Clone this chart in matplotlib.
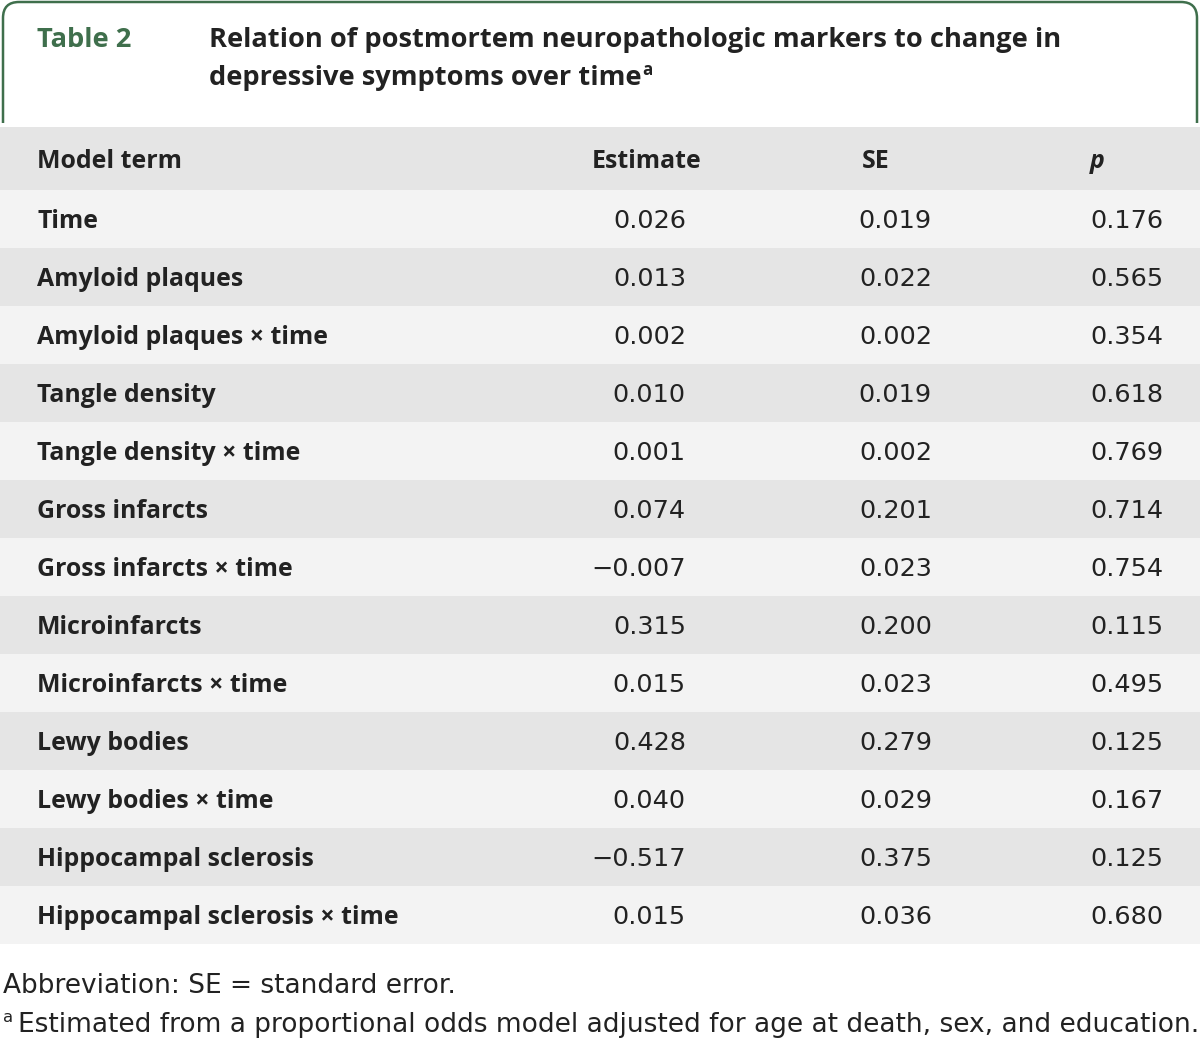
import matplotlib
matplotlib.use("Agg")
import matplotlib.pyplot as plt
from matplotlib.path import Path
from matplotlib.patches import PathPatch, Rectangle

table_label = "Table 2"
title_lines = ["Relation of postmortem neuropathologic markers to change in",
               "depressive symptoms over time"]
col_headers = ["Model term", "Estimate", "SE", "p"]
terms = ["Time", "Amyloid plaques", "Amyloid plaques \u00d7 time", "Tangle density",
         "Tangle density \u00d7 time", "Gross infarcts", "Gross infarcts \u00d7 time",
         "Microinfarcts", "Microinfarcts \u00d7 time", "Lewy bodies",
         "Lewy bodies \u00d7 time", "Hippocampal sclerosis",
         "Hippocampal sclerosis \u00d7 time"]
estimates = ["0.026", "0.013", "0.002", "0.010", "0.001", "0.074", "\u22120.007",
             "0.315", "0.015", "0.428", "0.040", "\u22120.517", "0.015"]
ses = ["0.019", "0.022", "0.002", "0.019", "0.002", "0.201", "0.023",
       "0.200", "0.023", "0.279", "0.029", "0.375", "0.036"]
pvals = ["0.176", "0.565", "0.354", "0.618", "0.769", "0.714", "0.754",
         "0.115", "0.495", "0.125", "0.167", "0.125", "0.680"]
footnotes = ["Abbreviation: SE = standard error.",
             "Estimated from a proportional odds model adjusted for age at death, sex, and education."]

FONT_B = ["Open Sans", "DejaVu Sans"]
FONT_R = ["DejaVu Sans"]
GREEN = "#3f6f4c"
DARK = "#222222"
W, H = 1200, 1040

fig = plt.figure(figsize=(12, 10.4), dpi=100)
ax = fig.add_axes([0, 0, 1, 1])
ax.set_xlim(0, W)
ax.set_ylim(H, 0)
ax.axis("off")
renderer = fig.canvas.get_renderer()
inv = ax.transData.inverted()


def size_for(s, target_w, base, **kw):
    t = ax.text(0, 0, s, fontsize=base, **kw)
    w = t.get_window_extent(renderer).width
    t.remove()
    return base * target_w / w


TW = dict(fontweight="bold", family=FONT_B)
title_fs = size_for(title_lines[0], 849, 19, **TW)
label_fs = size_for(terms[-1], 362, 17, **TW)
num_fs = size_for(pvals[6], 73, 17, family=FONT_R)
foot_fs = size_for(footnotes[1], 1179, 18, family=FONT_R)

# header border (rounded top corners)
r = 16
x0, x1, yt, yb = 3, 1197, 2, 123
verts = [(x0, yb), (x0, yt + r), (x0, yt), (x0 + r, yt), (x1 - r, yt),
         (x1, yt), (x1, yt + r), (x1, yb)]
codes = [Path.MOVETO, Path.LINETO, Path.CURVE3, Path.CURVE3, Path.LINETO,
         Path.CURVE3, Path.CURVE3, Path.LINETO]
ax.add_patch(PathPatch(Path(verts, codes), fill=False, edgecolor=GREEN, lw=1.8))

ax.text(37, 40, table_label, color=GREEN, fontsize=title_fs, va="center",
        ha="left", **TW)
ax.text(209, 40, title_lines[0], color=DARK, fontsize=title_fs, va="center",
        ha="left", **TW)
t2 = ax.text(209, 78, title_lines[1], color=DARK, fontsize=title_fs, va="center",
             ha="left", **TW)
bb = t2.get_window_extent(renderer)
xe = inv.transform((bb.x1, bb.y0))[0]
ax.text(xe + 1, 70, "a", color=DARK, fontsize=title_fs * 0.62, va="center",
        ha="left", **TW)

# table rows
top, header_h, row_h = 127, 63, 58
ax.add_patch(Rectangle((0, top), W, header_h, facecolor="#e5e5e5", edgecolor="none"))
hc = top + header_h / 2 + 3
ax.text(37, hc, col_headers[0], fontsize=label_fs, color=DARK, va="center",
        ha="left", **TW)
ax.text(647, hc, col_headers[1], fontsize=label_fs, color=DARK, va="center",
        ha="center", **TW)
ax.text(876, hc, col_headers[2], fontsize=label_fs, color=DARK, va="center",
        ha="center", **TW)
ax.text(1097, hc, col_headers[3], fontsize=label_fs, style="italic", color=DARK,
        va="center", ha="center", **TW)

for i, term in enumerate(terms):
    y = top + header_h + i * row_h
    fc = "#f3f3f3" if i % 2 == 0 else "#e5e5e5"
    ax.add_patch(Rectangle((0, y), W, row_h, facecolor=fc, edgecolor="none"))
    cy = y + row_h / 2 + 2
    ax.text(37, cy, term, fontsize=label_fs, color=DARK, va="center", ha="left", **TW)
    ax.text(686, cy, estimates[i], fontsize=num_fs, family=FONT_R, color=DARK,
            va="center", ha="right")
    ax.text(932, cy, ses[i], fontsize=num_fs, family=FONT_R, color=DARK,
            va="center", ha="right")
    ax.text(1163, cy, pvals[i], fontsize=num_fs, family=FONT_R, color=DARK,
            va="center", ha="right")

# footnotes
ax.text(3, 986, footnotes[0], fontsize=foot_fs, family=FONT_R, color=DARK,
        va="center", ha="left")
ax.text(3, 1017, "a", fontsize=foot_fs * 0.62, family=FONT_R, color=DARK,
        va="center", ha="left")
ax.text(18, 1025, footnotes[1], fontsize=foot_fs, family=FONT_R, color=DARK,
        va="center", ha="left")

fig.savefig("out.png", dpi=100, facecolor="white")
